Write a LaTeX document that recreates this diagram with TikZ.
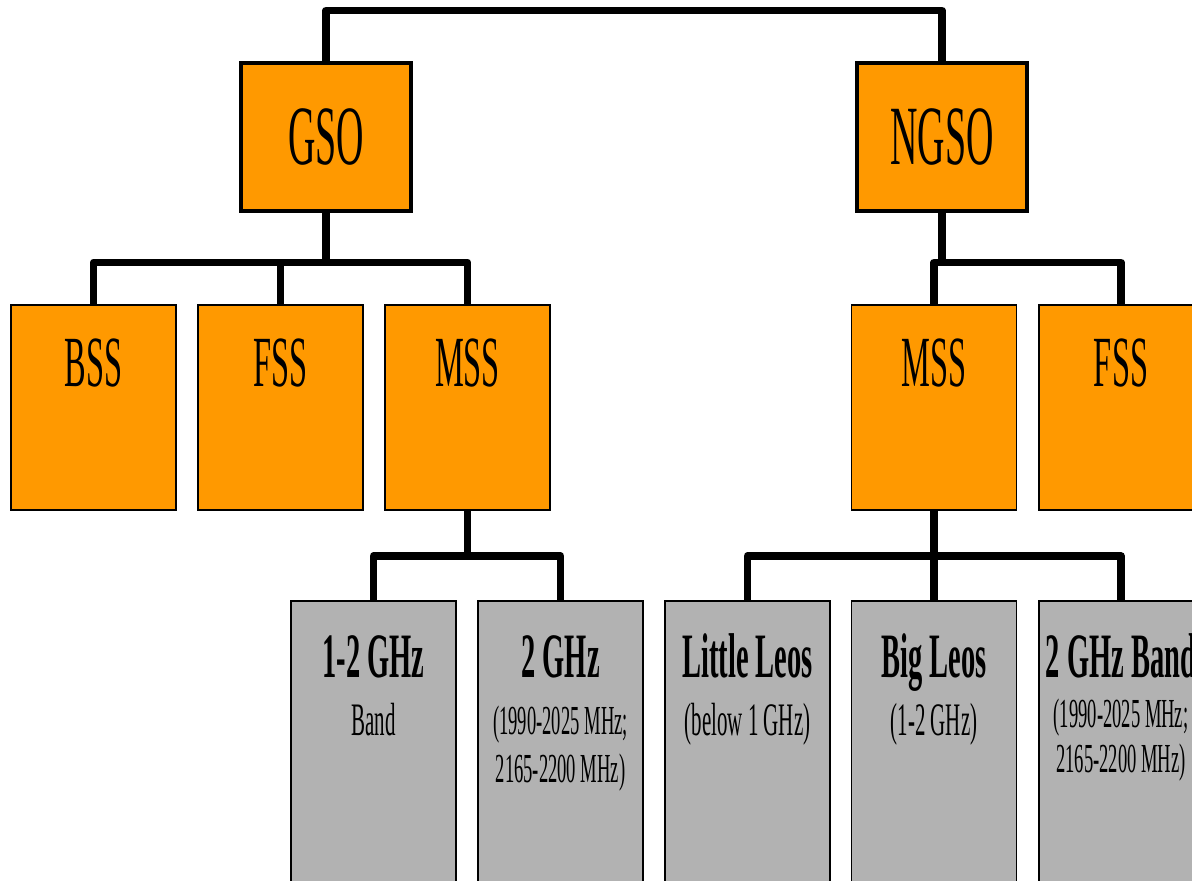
\documentclass[tikz,border=0pt]{standalone}
\usepackage{fontspec}
\setmainfont[FakeStretch=0.45]{Liberation Serif}
\usetikzlibrary{positioning}
\definecolor{orgbox}{HTML}{FF9900}
\definecolor{greybox}{HTML}{B2B2B2}
\tikzset{
  topbox/.style={draw,line width=2.8pt,fill=orgbox,minimum width=3.4cm,minimum height=2.96cm,inner sep=0pt,font=\fontsize{48}{50}\selectfont},
  svcbox/.style={draw,line width=1.1pt,fill=orgbox,minimum width=3.3cm,minimum height=4.1cm,inner sep=0pt},
  bandbox/.style={draw,line width=1.1pt,fill=greybox,minimum width=3.3cm,minimum height=6cm,inner sep=0pt},
  link/.style={line width=4.3pt,line join=round},
  svclab/.style={anchor=base,inner sep=0pt,font=\fontsize{41}{44}\selectfont},
  bandttl/.style={anchor=base,inner sep=0pt,font=\bfseries\fontsize{36}{38}\selectfont},
  bandsub/.style={anchor=base,inner sep=0pt,font=\fontsize{26.5}{28}\selectfont},
  bandmhz/.style={anchor=base,inner sep=0pt,font=\fontsize{23.5}{25}\selectfont}
}
\begin{document}
\begin{tikzpicture}[x=0.02cm,y=0.02cm]
  \useasboundingbox (0,0) rectangle (1192,881);
  \clip (0,0) rectangle (1192,881);
  % orbit classes
  \node[topbox] (gso) at (326,744) {GSO};
  \node[topbox] (ngso) at (942,744) {NGSO};
  \draw[link] (gso.north) -- ++(0,50) -| (ngso.north);
  % services
  \foreach \nm/\x/\lab in {bss/93.5/BSS, gfss/280.5/FSS, gmss/467.5/MSS, nmss/934/MSS, nfss/1121/FSS} {
    \node[svcbox] (\nm) at (\x,473.5) {};
    \node[svclab] at ([yshift=-1.64cm]\nm.north) {\lab};
  }
  \draw[link] (gso.south) -- ++(0,-49) coordinate (gbus);
  \draw[link] (bss.north) -- (bss.north |- gbus) -- (gmss.north |- gbus) -- (gmss.north);
  \draw[link] (gfss.north) -- (gfss.north |- gbus);
  \draw[link] (ngso.south) -- ++(0,-49) coordinate (nbus);
  \draw[link] (nmss.north) -- (nmss.north |- nbus) -- (nfss.north |- nbus) -- (nfss.north);
  % MSS bands
  \foreach \nm/\x in {gband/373.5, gtwo/560.5, little/747.5, big/934, nband/1121}
    \node[bandbox] (\nm) at (\x,130) {};
  \draw[link] (gmss.south) -- ++(0,-45) coordinate (gbus2);
  \draw[link] (gband.north) -- (gband.north |- gbus2) -- (gtwo.north |- gbus2) -- (gtwo.north);
  \draw[link] (nmss.south) -- ++(0,-45) coordinate (nbus2);
  \draw[link] (little.north) -- (little.north |- nbus2) -- (nband.north |- nbus2) -- (nband.north);
  \draw[link] (nbus2) -- (big.north);
  % band texts
  \node[bandttl] at ([yshift=-1.54cm]gband.north) {1-2 GHz};
  \node[bandsub] at ([yshift=-2.7cm]gband.north) {Band};
  \node[bandttl] at ([yshift=-1.54cm]gtwo.north) {2 GHz};
  \node[bandmhz] at ([yshift=-2.68cm]gtwo.north) {(1990-2025 MHz;};
  \node[bandmhz] at ([yshift=-3.64cm]gtwo.north) {2165-2200 MHz)};
  \node[bandttl] at ([yshift=-1.54cm]little.north) {Little Leos};
  \node[bandsub] at ([yshift=-2.7cm]little.north) {(below 1 GHz)};
  \node[bandttl] at ([yshift=-1.54cm]big.north) {Big Leos};
  \node[bandsub] at ([yshift=-2.7cm]big.north) {(1-2 GHz)};
  \node[bandttl] at ([yshift=-1.54cm]nband.north) {2 GHz Band};
  \node[bandmhz] at ([yshift=-2.54cm]nband.north) {(1990-2025 MHz;};
  \node[bandmhz] at ([yshift=-3.44cm]nband.north) {2165-2200 MHz)};
\end{tikzpicture}
\end{document}
